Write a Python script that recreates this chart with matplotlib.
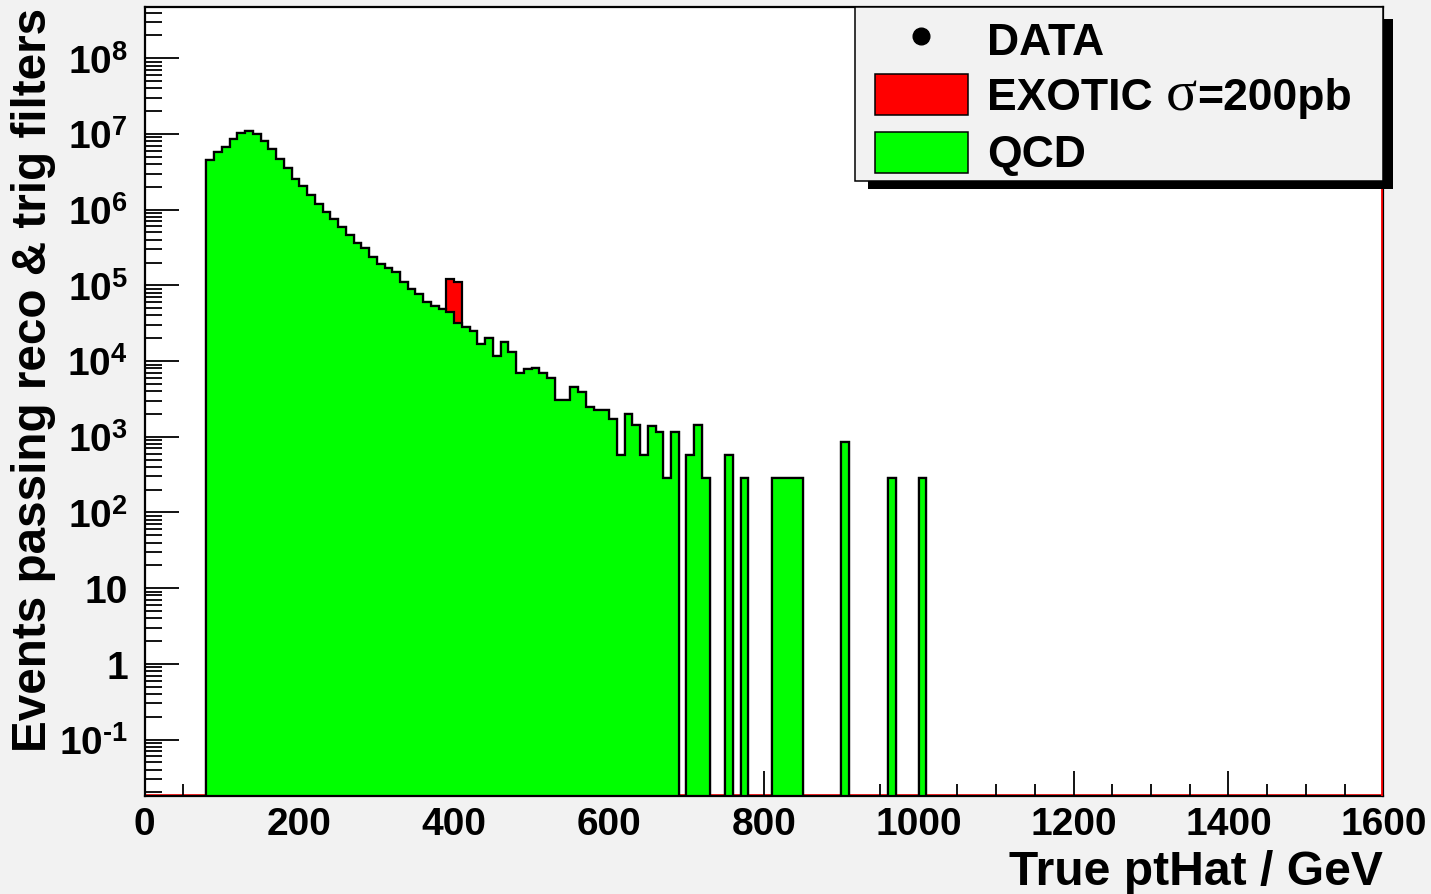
import numpy as np
import matplotlib
matplotlib.use("Agg")
import matplotlib.pyplot as plt
from matplotlib.patches import Rectangle
from matplotlib.lines import Line2D
from matplotlib.ticker import LogLocator, MultipleLocator, FixedLocator, FixedFormatter

plt.rcParams['font.family'] = ['Liberation Sans', 'DejaVu Sans']
plt.rcParams['font.weight'] = 'bold'
plt.rcParams['mathtext.fontset'] = 'custom'
plt.rcParams['mathtext.rm'] = 'Liberation Serif:weight=normal'
plt.rcParams['mathtext.bf'] = 'Liberation Sans:bold'
plt.rcParams['mathtext.it'] = 'Liberation Serif:italic'

# ---- data ----
bin_low = 80
bin_width = 10
qcd_counts = [
    4.5e6, 5.85e6, 6.8e6, 8.5e6, 1.04e7, 1.11e7, 1.0e7, 8.0e6, 6.3e6, 4.6e6,      # 80-170
    3.5e6, 2.57e6, 2.04e6, 1.58e6, 1.19e6, 9.2e5, 7.5e5, 5.9e5, 4.6e5, 3.67e5,     # 180-270
    3.1e5, 2.37e5, 1.94e5, 1.67e5, 1.48e5, 1.11e5, 9.0e4, 7.6e4, 6.0e4, 5.3e4,     # 280-370
    4.8e4, 4.5e4, 3.16e4, 2.8e4, 2.48e4, 1.70e4, 2.0e4, 1.17e4, 1.79e4, 1.32e4,    # 380-470
    7.0e3, 7.8e3, 8.0e3, 6.9e3, 5.9e3, 3.1e3, 3.1e3, 4.5e3, 3.95e3, 2.5e3,         # 480-570
    2.26e3, 2.26e3, 1.7e3, 570, 1980, 1420, 570, 1390, 1140, 288,                  # 580-670
    1140, 0, 570, 1420, 288, 0, 0, 570, 0, 288,                                    # 680-770
    0, 0, 0, 288, 288, 288, 288, 0, 0, 0,                                          # 780-870
    0, 0, 855, 0, 0, 0, 0, 0, 288, 0,                                              # 880-970
    0, 0, 288, 0,                                                                  # 980-1010
]
exotic_counts = np.zeros(len(qcd_counts))
exotic_bins = [390, 400]
exotic_values = [7.5e4, 7.9e4]

HY = chr(0x2010)
x_ticks = [0, 200, 400, 600, 800, 1000, 1200, 1400, 1600]
y_ticks = [1e-1, 1, 10, 1e2, 1e3, 1e4, 1e5, 1e6, 1e7, 1e8]
y_tick_labels = [r'$\mathbf{10}^{\mathbf{' + HY + r'1}}$', '1', '10', r'$\mathbf{10}^{\mathbf{2}}$',
                 r'$\mathbf{10}^{\mathbf{3}}$', r'$\mathbf{10}^{\mathbf{4}}$',
                 r'$\mathbf{10}^{\mathbf{5}}$', r'$\mathbf{10}^{\mathbf{6}}$',
                 r'$\mathbf{10}^{\mathbf{7}}$', r'$\mathbf{10}^{\mathbf{8}}$']
legend_labels = ['DATA', r'EXOTIC $\mathrm{\sigma}$=200pb', 'QCD']

# ---- build ----
qcd = np.array(qcd_counts, dtype=float)
edges = bin_low + bin_width * np.arange(len(qcd) + 1)
for b, v in zip(exotic_bins, exotic_values):
    exotic_counts[(b - bin_low) // bin_width] = v
total = qcd + exotic_counts
tiny = 1e-4
qcd_plot = np.where(qcd > 0, qcd, tiny)
total_plot = np.where(total > 0, total, tiny)

W, H = 1431, 895
fig = plt.figure(figsize=(W / 100, H / 100), dpi=100, facecolor='#f2f2f2')
L, R, T, B = 144.5, 1383.3, 7.7, 797.0
ax = fig.add_axes([L / W, 1 - B / H, (R - L) / W, (B - T) / H])
ax.set_facecolor('white')
ax.set_yscale('log')
ymin, ymax = 0.01795, 4.8e8
ax.set_xlim(0, 1600)
ax.set_ylim(ymin, ymax)

# red exotic outline along bottom/right
ax.plot([0, 1600], [ymin * 1.04, ymin * 1.04], color='red', lw=1.2, zorder=1, clip_on=False)
ax.plot([1597.8, 1597.8], [ymin, ymax], color='red', lw=1.3, zorder=6)

ax.stairs(total_plot, edges, baseline=tiny, fill=True, facecolor='#ff0000',
          edgecolor='black', linewidth=1.6, zorder=2)
ax.stairs(qcd_plot, edges, baseline=tiny, fill=True, facecolor='#00ff00',
          edgecolor='black', linewidth=1.6, zorder=3)

for s in ax.spines.values():
    s.set_linewidth(1.6)
    s.set_zorder(5)

ax.xaxis.set_major_locator(FixedLocator(x_ticks))
ax.xaxis.set_minor_locator(MultipleLocator(50))
ax.set_xticklabels([str(v) for v in x_ticks])
ax.yaxis.set_major_locator(FixedLocator(y_ticks))
ax.yaxis.set_major_formatter(FixedFormatter(y_tick_labels))
ax.yaxis.set_minor_locator(LogLocator(base=10, subs=np.arange(2, 10), numticks=100))
ax.yaxis.set_minor_formatter(FixedFormatter([]))

ax.tick_params(axis='x', which='major', direction='in', length=18, width=1.3,
               labelsize=28, pad=7, top=False)
ax.tick_params(axis='x', which='minor', direction='in', length=9, width=1.3, top=False)
ax.tick_params(axis='y', which='major', direction='in', length=24.5, width=1.3,
               labelsize=28, pad=12, right=False)
ax.tick_params(axis='y', which='minor', direction='in', length=12, width=1.3, right=False)
for lab in ax.get_xticklabels() + ax.get_yticklabels():
    lab.set_fontweight('bold')

# axis titles
fig.text(34 / W, 1 - 8 / H, 'Events passing reco & trig filters', rotation=90,
         ha='center', va='top', fontsize=34.3, fontweight='bold')
fig.text(1383 / W, 1 - 885 / H, 'True ptHat / GeV', ha='right', va='baseline',
         fontsize=34.6, fontweight='bold')

# legend (manual, ROOT style with shadow)
def rect_px(x0, y0, x1, y1, **kw):
    return Rectangle((x0 / W, 1 - y1 / H), (x1 - x0) / W, (y1 - y0) / H,
                     transform=fig.transFigure, **kw)

fig.add_artist(rect_px(868, 20, 1392.7, 190, facecolor='black', edgecolor='none', zorder=10))
fig.add_artist(rect_px(855, 8.3, 1383.3, 181.7, facecolor='#f2f2f2', edgecolor='black',
                       linewidth=1.1, zorder=11))
fig.add_artist(Line2D([921 / W], [1 - 37 / H], marker='o', markersize=12, color='black',
                      linestyle='none', transform=fig.transFigure, zorder=12))
fig.add_artist(rect_px(875, 75, 968, 116, facecolor='#ff0000', edgecolor='black',
                       linewidth=1.1, zorder=12))
fig.add_artist(rect_px(875, 133, 968, 174, facecolor='#00ff00', edgecolor='black',
                       linewidth=1.1, zorder=12))
legend_sizes = [32, 32, 32]
for lab, yb, fs in zip(legend_labels, [55, 110, 167], legend_sizes):
    if 'sigma' in lab:
        t1 = fig.text(987 / W, 1 - yb / H, 'EXOTIC ', ha='left', va='baseline', fontsize=fs,
                      fontweight='bold', zorder=13)
        fig.canvas.draw()
        bb = t1.get_window_extent()
        t2 = fig.text(bb.x1 / W, 1 - yb / H, r'$\mathrm{\sigma}$', ha='left', va='baseline',
                      fontsize=fs * 1.3, fontweight='normal', zorder=13)
        fig.canvas.draw()
        bb2 = t2.get_window_extent()
        fig.text(bb2.x1 / W, 1 - yb / H, '=200pb', ha='left', va='baseline', fontsize=fs,
                 fontweight='bold', zorder=13)
    else:
        fig.text(987 / W, 1 - yb / H, lab, ha='left', va='baseline', fontsize=fs,
                 fontweight='bold', zorder=13)

fig.savefig('out.png', dpi=100, facecolor=fig.get_facecolor())
